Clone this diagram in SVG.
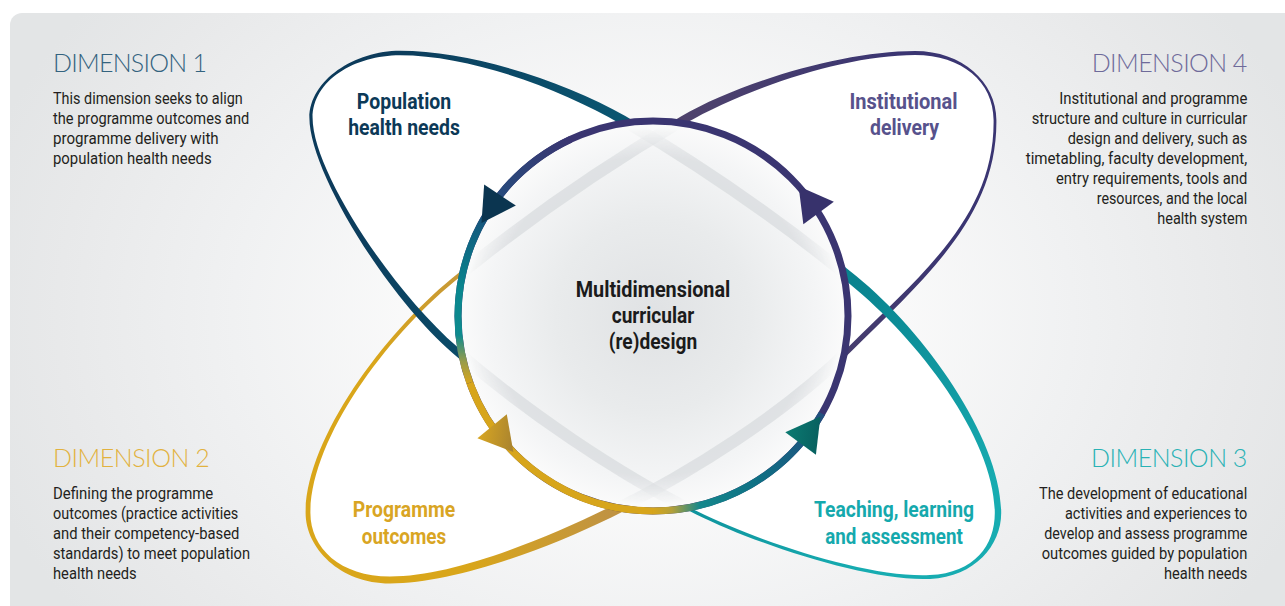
<svg xmlns="http://www.w3.org/2000/svg" xmlns:xlink="http://www.w3.org/1999/xlink" width="1285" height="606" viewBox="0 0 1285 606">
<defs>
<style>
.dim{font-family:"Lato","Open Sans","Liberation Sans",sans-serif;font-weight:300;font-size:25px}
.body{font-family:"Liberation Sans Narrow","Roboto","Liberation Sans",sans-serif;font-size:17px;fill:#231f20}
.lbl{font-family:"Liberation Sans Narrow","Roboto","Liberation Sans",sans-serif;font-weight:700;font-size:22.5px;text-anchor:middle}
.end{text-anchor:end}
.ghost{fill:none;stroke:#d2d5d9;stroke-width:12;stroke-opacity:0.6}
.ring{fill:none;stroke-width:7}
</style>
<radialGradient id="bg" gradientUnits="userSpaceOnUse" cx="653" cy="316" r="700" gradientTransform="translate(653 316) scale(1 0.75) translate(-653 -316)">
<stop offset="0" stop-color="#ffffff"/><stop offset="0.3" stop-color="#fbfbfb"/><stop offset="0.6" stop-color="#f0f1f2"/><stop offset="0.85" stop-color="#e8e9ea"/><stop offset="1" stop-color="#e3e5e6"/>
</radialGradient>
<radialGradient id="disk" gradientUnits="userSpaceOnUse" cx="653" cy="316" r="195">
<stop offset="0" stop-color="#e0e2e4"/><stop offset="0.5" stop-color="#e9ebec"/><stop offset="0.85" stop-color="#f4f5f6"/><stop offset="1" stop-color="#fbfbfb"/>
</radialGradient>
<radialGradient id="fadeG" gradientUnits="userSpaceOnUse" cx="653" cy="316" r="195">
<stop offset="0" stop-color="#fff"/><stop offset="0.82" stop-color="#fff"/><stop offset="0.97" stop-color="#000"/>
</radialGradient>
<mask id="fade" maskUnits="userSpaceOnUse" x="450" y="110" width="410" height="410">
<circle cx="653" cy="316" r="193" fill="url(#fadeG)"/>
</mask>
<linearGradient id="gNavy" gradientUnits="userSpaceOnUse" x1="623" y1="120" x2="380" y2="60"><stop offset="0" stop-color="#0a5671"/><stop offset="1" stop-color="#0c3b5b"/></linearGradient>
<linearGradient id="gPurple" gradientUnits="userSpaceOnUse" x1="683" y1="120" x2="900" y2="55"><stop offset="0" stop-color="#4e426c"/><stop offset="1" stop-color="#3a3572"/></linearGradient>
<linearGradient id="gTeal" gradientUnits="userSpaceOnUse" x1="853" y1="280" x2="990" y2="490"><stop offset="0" stop-color="#09838f"/><stop offset="1" stop-color="#17acb1"/></linearGradient>
<linearGradient id="gGold" gradientUnits="userSpaceOnUse" x1="609" y1="513" x2="470" y2="575"><stop offset="0" stop-color="#c09342"/><stop offset="1" stop-color="#d9a61a"/></linearGradient>
<linearGradient id="gRingTop" gradientUnits="userSpaceOnUse" x1="570" y1="139" x2="487" y2="213"><stop offset="0" stop-color="#3a3571"/><stop offset="1" stop-color="#23507f"/></linearGradient>
<linearGradient id="gRingLeft" gradientUnits="userSpaceOnUse" x1="0" y1="212" x2="0" y2="383"><stop offset="0" stop-color="#1a4f7a"/><stop offset="0.164" stop-color="#0f6582"/><stop offset="0.456" stop-color="#0a878f"/><stop offset="0.72" stop-color="#0e8b8e"/><stop offset="0.877" stop-color="#9a9c4a"/><stop offset="1" stop-color="#d6a51c"/></linearGradient>
<linearGradient id="gRingBR" gradientUnits="userSpaceOnUse" x1="653" y1="0" x2="822" y2="0"><stop offset="0" stop-color="#d7a51b"/><stop offset="0.112" stop-color="#b3a03a"/><stop offset="0.278" stop-color="#14878c"/><stop offset="0.633" stop-color="#0f6f84"/><stop offset="1" stop-color="#22507f"/></linearGradient>
<linearGradient id="gGoldArrow" x1="0" y1="1" x2="1" y2="0"><stop offset="0" stop-color="#d8a622"/><stop offset="1" stop-color="#977634"/></linearGradient>
<linearGradient id="gTealArrow" x1="0" y1="0" x2="0.5" y2="1"><stop offset="0" stop-color="#0c7b72"/><stop offset="1" stop-color="#075b5c"/></linearGradient>
<path id="ah" d="M0,-19 L33.5,0 L0,19 Z"/>
</defs>

<rect x="0" y="0" width="1285" height="606" fill="#ffffff"/>
<rect id="panel" x="10" y="13" width="1300" height="620" rx="12" fill="url(#bg)"/>

<g id="petals">
  <g id="petal-fills" fill="#ffffff">
    <path d="M 623,120 C 563,85 470,53 400,53 C 355,53 311,80 311,118 C 311,170 387,291 455,350 C 523,409 616,473 697,513 C 760,544 870,580 930,577 C 975,575 998,545 998,513 C 998,440 923,337 853,280 C 783,223 701,166 623,120 Z"/>
    <path d="M 683,120 C 743,85 845,53 915,53 C 962,53 995,82 995,120 C 996,215 925,275 851,348 C 787,412 690,473.5 609,513 C 537,548 450,580 390,580 C 340,580 308,548 308,513 C 308,440 383.4,337.2 453,280 C 522.6,222.8 605.3,165.5 683,120 Z"/>
  </g>
  <g id="petal-programme-outcomes-line">
    <path fill="url(#gGold)" d="M 739.1,443.7 C 696.7,472 651.7,497.7 611.2,517.5 C 539.2,552.5 450,583.5 390,583.5 C 340,583.5 305.6,548 305.6,513 C 305.6,440 382.1,335.7 451.7,278.5 C 486.5,249.9 524.8,221.3 563.9,194.1 L 566,197.1 C 526.9,224.3 489.1,253 454.3,281.5 C 384.7,338.7 310.4,440 310.4,513 C 310.4,548 340,576.5 390,576.5 C 450,576.5 534.8,543.5 606.8,508.5 C 647.3,488.75 691.3,464 733.7,435.7 Z"/>
  </g>
  <g id="petal-institutional-delivery-line">
    <path fill="url(#gPurple)" d="M 562.7,192.3 C 601.8,165.2 642,139.1 680.9,116.4 C 740.9,81.4 845,51 915,51 C 962,51 996.4,82 996.4,120 C 997.4,215 926.9,276.8 852.9,349.8 C 820.9,381.8 780.2,413.5 737.8,441.9 L 735,437.5 C 777.3,409.2 817.1,378.2 849.1,346.2 C 923.1,273.2 994.6,215 993.6,120 C 993.6,82 962,55 915,55 C 845,55 745.1,88.6 685.1,123.6 C 646.3,146.4 606.3,171.7 567.2,198.9 Z"/>
  </g>
  <g id="petal-population-health-needs-line">
    <path fill="url(#gNavy)" d="M 743.3,192.6 C 704.3,165.5 664.3,139.1 625.3,116.1 C 565.3,81.1 470,50.8 400,50.8 C 355,50.8 309.4,80 309.4,118 C 309.4,170 384.5,293.9 452.5,352.9 C 486.5,382.4 527.3,413.2 569.1,441.5 L 573.1,435.7 C 531.2,407.4 491.5,376.6 457.5,347.1 C 389.5,288.1 312.6,170 312.6,118 C 312.6,80 355,55.2 400,55.2 C 470,55.2 560.7,88.9 620.7,123.9 C 659.7,146.9 699.7,172 738.7,199.2 Z"/>
  </g>
  <g id="petal-teaching-line">
    <path fill="url(#gTeal)" d="M 570.1,440.1 C 612,468.5 655.8,494.4 696.3,514.4 C 759.3,545.4 870.1,581.9 930.1,578.9 C 975.1,576.9 1001.2,545 1001.2,513 C 1001.2,440 926.2,333.1 856.2,276.1 C 821.2,247.6 782.9,218.9 743.9,191.8 L 738.1,200 C 777.1,227.1 814.8,255.4 849.8,283.9 C 919.8,340.9 994.8,440 994.8,513 C 994.8,545 974.9,573.1 929.9,575.1 C 869.9,578.1 760.7,542.6 697.7,511.6 C 657.2,491.6 614,465.5 572.1,437.1 Z"/>
  </g>
</g>

<g id="hub">
  <circle cx="653" cy="316" r="195" fill="url(#disk)"/>
  <g mask="url(#fade)">
    <path class="ghost" d="M 853,280 C 783,223 701,166 623,120"/>
    <path class="ghost" d="M 455,350 C 523,409 616,473 697,513"/>
    <path class="ghost" d="M 453,280 C 522.6,222.8 605.3,165.5 683,120"/>
    <path class="ghost" d="M 851,348 C 787,412 690,473.5 609,513"/>
  </g>
</g>

<g id="connectors">
  <circle class="ring" cx="653" cy="316" r="195" stroke="#3a3571"/>
  <path class="ring" stroke="url(#gRingTop)" d="M 570.6,139.3 A 195 195 0 0 0 487.6,212.7"/>
  <path class="ring" stroke="url(#gRingLeft)" d="M 487.6,212.7 A 195 195 0 0 0 469.8,382.7"/>
  <path class="ring" stroke="#d7a51b" d="M 469.8,382.7 A 195 195 0 0 0 653,511"/>
  <path class="ring" stroke="url(#gRingBR)" d="M 653,511 A 195 195 0 0 0 821.9,413.5"/>
  <use xlink:href="#ah" href="#ah" transform="translate(500,195.1) rotate(123.5)" fill="#0b3550"/>
  <use xlink:href="#ah" href="#ah" transform="translate(818.6,213) rotate(-126.7)" fill="#37326c"/>
  <use xlink:href="#ah" href="#ah" transform="translate(800.6,443.4) rotate(-53.7)" fill="url(#gTealArrow)"/>
  <use xlink:href="#ah" href="#ah" transform="translate(492.1,426.2) rotate(50.6)" fill="url(#gGoldArrow)"/>
</g>

<g id="node-center">
  <text class="lbl" x="653" y="296.5" fill="#1b1b1b" textLength="154.6" lengthAdjust="spacingAndGlyphs">Multidimensional</text>
  <text class="lbl" x="653" y="323" fill="#1b1b1b" textLength="82.6" lengthAdjust="spacingAndGlyphs">curricular</text>
  <text class="lbl" x="653" y="348.5" fill="#1b1b1b" textLength="88.3" lengthAdjust="spacingAndGlyphs">(re)design</text>
</g>

<g id="node-population-health-needs">
  <text class="lbl" x="404" y="108.5" fill="#0c3957" textLength="94.3" lengthAdjust="spacingAndGlyphs">Population</text>
  <text class="lbl" x="404" y="135" fill="#0c3957" textLength="111.7" lengthAdjust="spacingAndGlyphs">health needs</text>
</g>
<g id="node-institutional-delivery">
  <text class="lbl" x="903.5" y="108.5" fill="#57528c" textLength="108" lengthAdjust="spacingAndGlyphs">Institutional</text>
  <text class="lbl" x="904.5" y="135" fill="#57528c" textLength="69" lengthAdjust="spacingAndGlyphs">delivery</text>
</g>
<g id="node-programme-outcomes">
  <text class="lbl" x="404" y="517.3" fill="#d9a523" textLength="102.3" lengthAdjust="spacingAndGlyphs">Programme</text>
  <text class="lbl" x="404" y="543.5" fill="#d9a523" textLength="84.3" lengthAdjust="spacingAndGlyphs">outcomes</text>
</g>
<g id="node-teaching-learning-assessment">
  <text class="lbl" x="894" y="517.3" fill="#15a9ad" textLength="160" lengthAdjust="spacingAndGlyphs">Teaching, learning</text>
  <text class="lbl" x="894" y="543.5" fill="#15a9ad" textLength="137.7" lengthAdjust="spacingAndGlyphs">and assessment</text>
</g>

<g id="dimension-1">
  <text class="dim" x="53" y="72" fill="#33637f" textLength="154" lengthAdjust="spacing">DIMENSION 1</text>
  <text class="body" x="53" y="104" textLength="189.7" lengthAdjust="spacingAndGlyphs">This dimension seeks to align</text>
  <text class="body" x="53" y="124" textLength="196.3" lengthAdjust="spacingAndGlyphs">the programme outcomes and</text>
  <text class="body" x="53" y="144" textLength="165.7" lengthAdjust="spacingAndGlyphs">programme delivery with</text>
  <text class="body" x="53" y="164" textLength="158.7" lengthAdjust="spacingAndGlyphs">population health needs</text>
</g>

<g id="dimension-4">
  <text class="dim end" x="1247.3" y="72" fill="#6e6a9a" textLength="155.6" lengthAdjust="spacing">DIMENSION 4</text>
  <text class="body end" x="1247.3" y="104" textLength="188" lengthAdjust="spacingAndGlyphs">Institutional and programme</text>
  <text class="body end" x="1247.3" y="124" textLength="215.6" lengthAdjust="spacingAndGlyphs">structure and culture in curricular</text>
  <text class="body end" x="1247.3" y="144" textLength="179.6" lengthAdjust="spacingAndGlyphs">design and delivery, such as</text>
  <text class="body end" x="1247.3" y="164" textLength="221.6" lengthAdjust="spacingAndGlyphs">timetabling, faculty development,</text>
  <text class="body end" x="1247.3" y="184" textLength="191.3" lengthAdjust="spacingAndGlyphs">entry requirements, tools and</text>
  <text class="body end" x="1247.3" y="204" textLength="150.6" lengthAdjust="spacingAndGlyphs">resources, and the local</text>
  <text class="body end" x="1247.3" y="224" textLength="90" lengthAdjust="spacingAndGlyphs">health system</text>
</g>

<g id="dimension-2">
  <text class="dim" x="53" y="467" fill="#e2b23f" textLength="156.7" lengthAdjust="spacing">DIMENSION 2</text>
  <text class="body" x="53" y="499" textLength="160.3" lengthAdjust="spacingAndGlyphs">Defining the programme</text>
  <text class="body" x="53" y="519" textLength="185.3" lengthAdjust="spacingAndGlyphs">outcomes (practice activities</text>
  <text class="body" x="53" y="539" textLength="186.3" lengthAdjust="spacingAndGlyphs">and their competency-based</text>
  <text class="body" x="53" y="559" textLength="197" lengthAdjust="spacingAndGlyphs">standards) to meet population</text>
  <text class="body" x="53" y="579" textLength="83.7" lengthAdjust="spacingAndGlyphs">health needs</text>
</g>

<g id="dimension-3">
  <text class="dim end" x="1247.3" y="467" fill="#29b2b5" textLength="156.3" lengthAdjust="spacing">DIMENSION 3</text>
  <text class="body end" x="1247.3" y="499" textLength="208.3" lengthAdjust="spacingAndGlyphs">The development of educational</text>
  <text class="body end" x="1247.3" y="519" textLength="182.3" lengthAdjust="spacingAndGlyphs">activities and experiences to</text>
  <text class="body end" x="1247.3" y="539" textLength="203" lengthAdjust="spacingAndGlyphs">develop and assess programme</text>
  <text class="body end" x="1247.3" y="559" textLength="205.6" lengthAdjust="spacingAndGlyphs">outcomes guided by population</text>
  <text class="body end" x="1247.3" y="579" textLength="83.3" lengthAdjust="spacingAndGlyphs">health needs</text>
</g>
</svg>
